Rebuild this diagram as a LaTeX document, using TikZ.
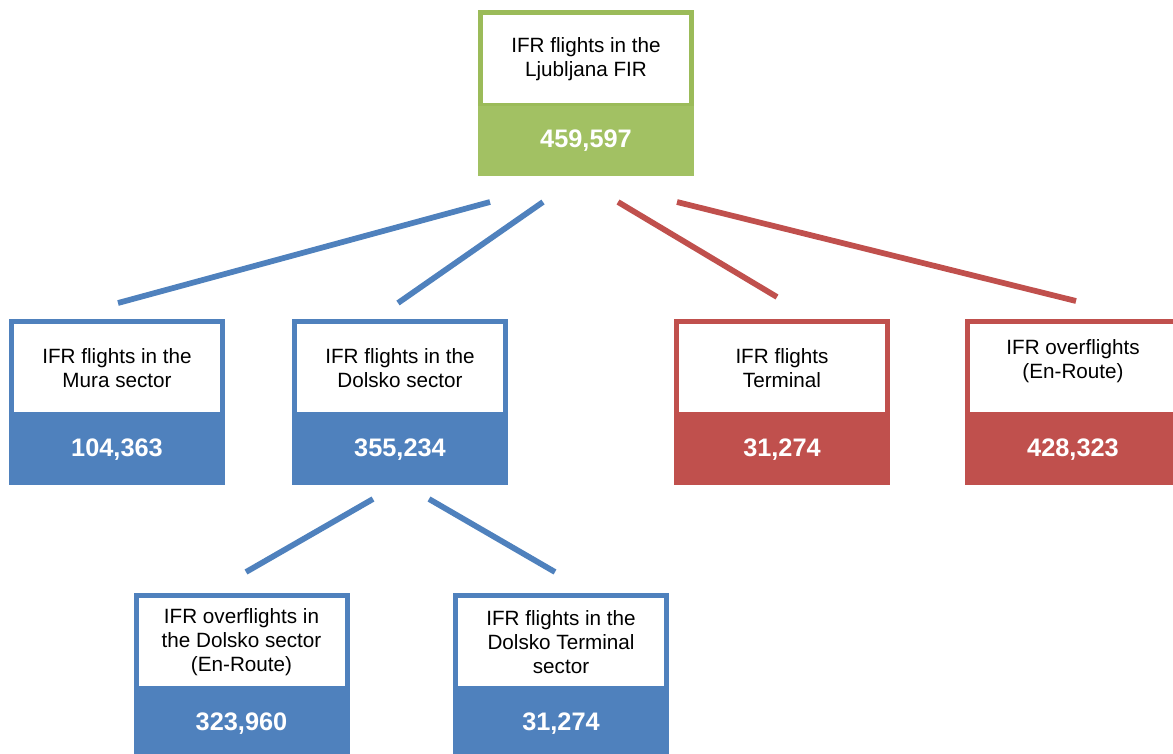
\documentclass[tikz,border=0pt]{standalone}
\usepackage{fontspec}
\setmainfont{Liberation Sans}
\usetikzlibrary{positioning}
\definecolor{fgreen}{HTML}{9BBB59}
\definecolor{fgreenv}{HTML}{A2C163}
\definecolor{sblue}{HTML}{4F81BD}
\definecolor{sred}{HTML}{C0504D}
\begin{document}
\begin{tikzpicture}[x=0.75pt,y=-0.75pt,
    lbl/.style={draw=#1,line width=3.75pt,fill=white,anchor=north,outer sep=0pt,inner sep=0pt,
        minimum width=158.25pt,minimum height=70pt,align=center,font=\fontsize{15.5}{18}\selectfont},
    val/.style={fill=#1,outer sep=0pt,inner sep=0pt,minimum width=162pt,minimum height=52.5pt,
        text=white,font=\fontsize{19}{22}\selectfont\bfseries},
    lnk/.style={line width=4.3pt,#1}]
    \useasboundingbox(0,0)rectangle(1173,753);
    % top level
    \node[lbl=fgreen](fir)at(586,12.5){IFR flights in the\\Ljubljana FIR};
    \node[val=fgreenv,below=0pt of fir](firv){459,597};
    % second row
    \node[lbl=sblue](mura)at(117,321.5){IFR flights in the\\Mura sector};
    \node[val=sblue,below=0pt of mura](murav){104,363};
    \node[lbl=sblue](dol)at(400,321.5){IFR flights in the\\Dolsko sector};
    \node[val=sblue,below=0pt of dol](dolv){355,234};
    \node[lbl=sred](term)at(782,321.5){IFR flights\\Terminal};
    \node[val=sred,below=0pt of term](termv){31,274};
    \node[lbl=sred](enr)at(1073,321.5){IFR overflights\\(En-Route)\\[-4.5pt]};
    \node[val=sred,below=0pt of enr](enrv){428,323};
    % third row
    \node[lbl=sblue](dolenr)at(241.5,595.5){IFR overflights in\\the Dolsko sector\\(En-Route)};
    \node[val=sblue,below=0pt of dolenr](dolenrv){323,960};
    \node[lbl=sblue](dolterm)at(561,595.5){IFR flights in the\\Dolsko Terminal\\sector};
    \node[val=sblue,below=0pt of dolterm](doltermv){31,274};
    % line ends
    \coordinate(f1)at(490,202);\coordinate(m1)at(118,303);
    \coordinate(f2)at(543,202);\coordinate(d1)at(398,303);
    \coordinate(f3)at(618,202);\coordinate(t1)at(777,297);
    \coordinate(f4)at(677,202);\coordinate(e1)at(1076,301);
    \coordinate(d2)at(373,499);\coordinate(de1)at(246,572);
    \coordinate(d3)at(429,499);\coordinate(dt1)at(555,572);
    \draw[lnk=sblue](f1)--(m1);
    \draw[lnk=sblue](f2)--(d1);
    \draw[lnk=sred](f3)--(t1);
    \draw[lnk=sred](f4)--(e1);
    \draw[lnk=sblue](d2)--(de1);
    \draw[lnk=sblue](d3)--(dt1);
\end{tikzpicture}
\end{document}
